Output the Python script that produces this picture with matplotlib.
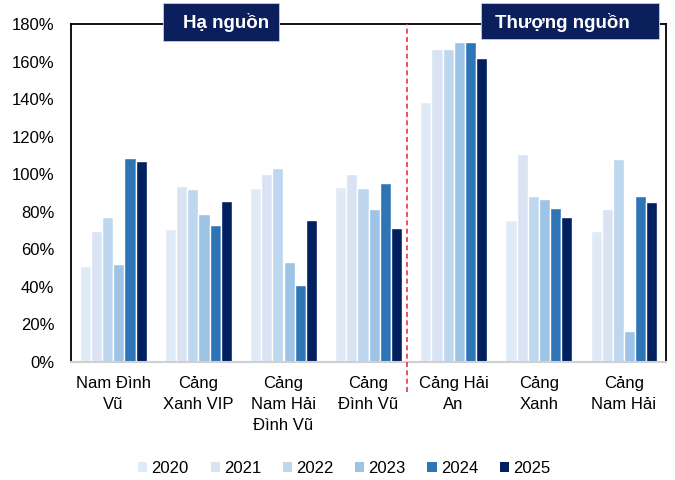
import numpy as np
import matplotlib
import matplotlib.pyplot as plt
from matplotlib.patches import Patch, Rectangle

matplotlib.use('Agg')

plt.rcParams['font.family'] = ['Liberation Sans', 'DejaVu Sans']

ports = ['Nam Đình\nVũ', 'Cảng\nXanh VIP', 'Cảng\nNam Hải\nĐình Vũ', 'Cảng\nĐình Vũ',
         'Cảng Hải\nAn', 'Cảng\nXanh', 'Cảng\nNam Hải']
years = ['2020', '2021', '2022', '2023', '2024', '2025']

# utilisation, % of capacity
y2020 = [51, 71, 92.5, 93, 138.5, 75.5, 70]
y2021 = [70, 93.5, 100, 100, 166.5, 110.5, 81.5]
y2022 = [77, 92, 103.5, 92.5, 166.5, 88.5, 108]
y2023 = [52, 79, 53, 81.5, 170.5, 87, 16.5]
y2024 = [108.5, 73, 41, 95.5, 170.5, 82, 88.5]
y2025 = [107, 85.5, 75.5, 71.5, 162, 77, 85]

colors = ['#DEEBF7', '#DAE3F3', '#BDD7EE', '#9DC3E6', '#2E75B6', '#002060']

fig = plt.figure(figsize=(6.75, 4.8), dpi=100)
ax = fig.add_axes([0.105, 0.246, 0.882, 0.704])

x = np.arange(len(ports))
w = 0.13
series = [y2020, y2021, y2022, y2023, y2024, y2025]
for i, vals in enumerate(series):
    ax.bar(x + (i - 2.5) * w, vals, w, color=colors[i], edgecolor='white',
           linewidth=1.0, label=years[i], zorder=2)

ax.set_xlim(-0.5, len(ports) - 0.5)
ax.set_ylim(0, 180)
ax.set_yticks(np.arange(0, 181, 20))
ax.set_yticklabels([f'{v}%' for v in range(0, 181, 20)], fontsize=12)
ax.set_xticks(x)
ax.set_xticklabels(ports, fontsize=12, linespacing=1.5)
ax.tick_params(axis='y', length=0, pad=12)
ax.tick_params(axis='x', length=0, pad=10)

for s in ['left', 'top', 'right']:
    ax.spines[s].set_color('black')
    ax.spines[s].set_linewidth(1.3)
ax.spines['bottom'].set_color('#D0D0D0')
ax.spines['bottom'].set_linewidth(1.5)

# split between downstream / upstream
ax.plot([3.45, 3.45], [-0.09, 1.0], transform=ax.get_xaxis_transform(),
        color='#E8334A', linestyle=(0, (3, 2)), linewidth=1.2, clip_on=False, zorder=3)

# section labels sitting on the top border
for x0, x1, y0, y1, tx, label in [(0.58, 1.95, 171, 191, 1.32, 'Hạ nguồn'),
                                  (4.32, 6.42, 172, 191, 5.28, 'Thượng nguồn')]:
    ax.add_patch(Rectangle((x0, y0), x1 - x0, y1 - y0, facecolor='#0B1F5C',
                           edgecolor='#C8CCD8', linewidth=0.6, clip_on=False, zorder=5))
    ax.text(tx, 181, label, ha='center', va='center', fontsize=13.5,
            fontweight='bold', color='white', zorder=6)

handles = [Patch(facecolor=c, edgecolor='none') for c in colors]
fig.legend(handles, years, loc='center', bbox_to_anchor=(0.51, 0.024), ncol=6,
           frameon=False, fontsize=12, handlelength=0.55, handleheight=0.55,
           handletextpad=0.25, columnspacing=1.3)

fig.savefig('out.png', dpi=100)
